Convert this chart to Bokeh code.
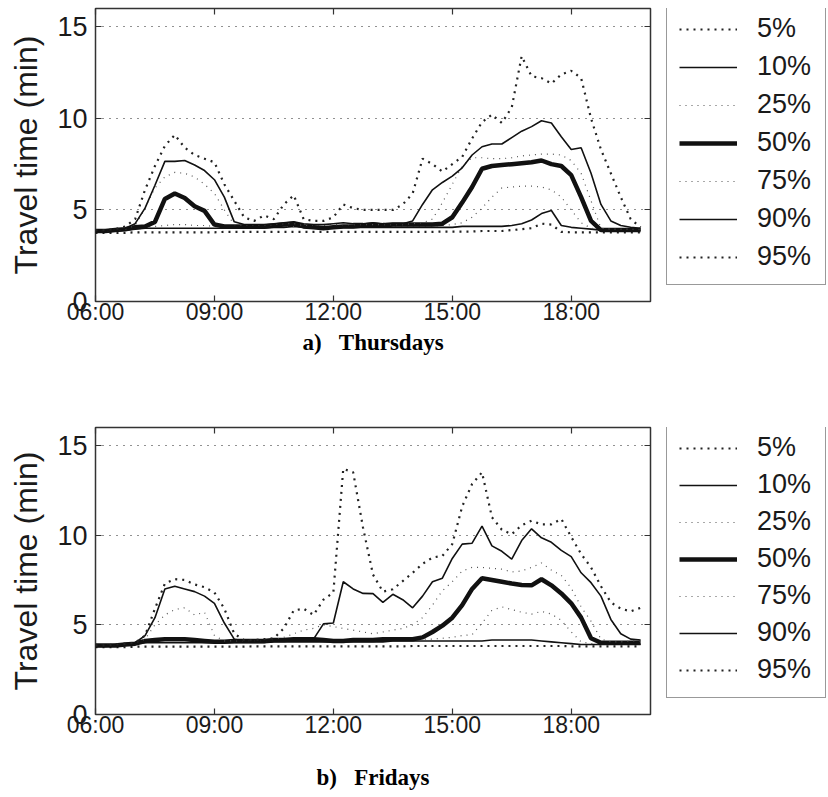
from bokeh.plotting import figure
from bokeh.models import Range1d, FixedTicker, LinearAxis, Legend, LegendItem, ColumnDataSource
from bokeh.layouts import column, row
from bokeh.embed import file_html
from bokeh.resources import INLINE

# ---------------- data ----------------
TIME_LABELS = [
    "06:00", "06:15", "06:30", "06:45", "07:00", "07:15", "07:30", "07:45",
    "08:00", "08:15", "08:30", "08:45", "09:00", "09:15", "09:30", "09:45",
    "10:00", "10:15", "10:30", "10:45", "11:00", "11:15", "11:30", "11:45",
    "12:00", "12:15", "12:30", "12:45", "13:00", "13:15", "13:30", "13:45",
    "14:00", "14:15", "14:30", "14:45", "15:00", "15:15", "15:30", "15:45",
    "16:00", "16:15", "16:30", "16:45", "17:00", "17:15", "17:30", "17:45",
    "18:00", "18:15", "18:30", "18:45", "19:00", "19:15", "19:30", "19:45",
]

PERCENTILES = ["5%", "10%", "25%", "50%", "75%", "90%", "95%"]

THU_P5 = [3.75, 3.75, 3.75, 3.75, 3.78, 3.78, 3.78, 3.78,
          3.78, 3.78, 3.78, 3.78, 3.78, 3.8, 3.8, 3.8,
          3.8, 3.8, 3.8, 3.8, 3.8, 3.8, 3.8, 3.8,
          3.8, 3.8, 3.8, 3.8, 3.8, 3.8, 3.8, 3.8,
          3.8, 3.8, 3.8, 3.82, 3.82, 3.82, 3.82, 3.85,
          3.85, 3.85, 3.9, 3.95, 4.0, 4.25, 4.2, 3.8,
          3.78, 3.78, 3.78, 3.78, 3.78, 3.78, 3.78, 3.78]
THU_P10 = [3.8, 3.8, 3.85, 3.9, 3.95, 4.0, 4.0, 4.0,
           4.0, 4.0, 4.0, 4.0, 4.0, 4.0, 4.0, 4.0,
           4.0, 4.0, 4.05, 4.05, 4.1, 4.05, 4.0, 4.0,
           4.0, 4.05, 4.05, 4.05, 4.05, 4.05, 4.05, 4.05,
           4.05, 4.05, 4.05, 4.05, 4.05, 4.1, 4.1, 4.1,
           4.1, 4.1, 4.15, 4.25, 4.45, 4.8, 4.97, 4.15,
           4.05, 4.0, 3.95, 3.9, 3.9, 3.9, 3.9, 3.9]
THU_P25 = [3.8, 3.8, 3.85, 3.9, 4.0, 4.05, 4.1, 4.15,
           4.2, 4.2, 4.15, 4.15, 4.1, 4.05, 4.05, 4.05,
           4.05, 4.05, 4.1, 4.1, 4.1, 4.05, 4.05, 4.05,
           4.05, 4.05, 4.05, 4.1, 4.1, 4.1, 4.1, 4.1,
           4.1, 4.1, 4.1, 4.15, 4.2, 4.3, 4.6, 5.1,
           5.7, 6.2, 6.25, 6.3, 6.3, 6.25, 6.1, 5.7,
           5.0, 4.3, 4.0, 3.9, 3.9, 3.9, 3.9, 3.9]
THU_P50 = [3.85, 3.85, 3.9, 3.95, 4.05, 4.1, 4.35, 5.6,
           5.9, 5.65, 5.2, 4.95, 4.2, 4.1, 4.1, 4.1,
           4.1, 4.1, 4.15, 4.2, 4.25, 4.1, 4.05, 4.0,
           4.05, 4.1, 4.1, 4.15, 4.2, 4.15, 4.2, 4.2,
           4.2, 4.2, 4.2, 4.25, 4.6, 5.4, 6.25, 7.25,
           7.4, 7.45, 7.5, 7.55, 7.6, 7.7, 7.5, 7.4,
           6.9, 5.7, 4.4, 3.9, 3.9, 3.9, 3.9, 3.9]
THU_P75 = [3.85, 3.85, 3.9, 3.95, 4.15, 5.1, 6.2, 6.8,
           7.05, 7.0, 6.8, 6.4, 5.9, 5.0, 4.2, 4.15,
           4.15, 4.15, 4.2, 4.25, 4.25, 4.15, 4.15, 4.15,
           4.2, 4.2, 4.2, 4.2, 4.2, 4.2, 4.2, 4.2,
           4.25, 4.3, 4.5, 5.4, 6.4, 7.4, 7.85, 7.85,
           7.8, 7.8, 7.85, 7.95, 8.0, 8.05, 8.05, 8.0,
           7.7, 7.0, 5.5, 4.0, 3.95, 3.95, 3.95, 3.95]
THU_P90 = [3.85, 3.85, 3.9, 4.0, 4.25, 5.1, 6.35, 7.65,
           7.65, 7.7, 7.45, 7.15, 6.65, 5.7, 4.35, 4.2,
           4.2, 4.2, 4.25, 4.3, 4.35, 4.25, 4.2, 4.2,
           4.25, 4.3, 4.25, 4.25, 4.3, 4.25, 4.25, 4.25,
           4.4, 5.3, 6.1, 6.5, 6.85, 7.3, 8.0, 8.45,
           8.6, 8.6, 8.95, 9.3, 9.55, 9.87, 9.75, 9.0,
           8.3, 8.4, 7.0, 5.3, 4.4, 4.15, 4.05, 4.0]
THU_P95 = [3.9, 3.9, 3.95, 4.1, 4.5, 6.1, 7.4, 8.5,
           9.1, 8.4, 8.0, 7.8, 7.6, 6.4, 5.5, 4.6,
           4.4, 4.7, 4.5, 5.3, 5.8, 4.5, 4.4, 4.4,
           4.6, 5.3, 5.1, 5.0, 5.0, 5.0, 5.0, 5.3,
           5.9, 7.8, 7.5, 7.1, 7.5, 7.9, 8.9, 9.8,
           10.2, 9.75, 10.6, 13.4, 12.3, 12.2, 11.9, 12.4,
           12.6, 12.2, 10.0, 8.3, 7.0, 5.7, 4.5, 4.05]

FRI_P5 = [3.75, 3.75, 3.75, 3.75, 3.78, 3.78, 3.78, 3.78,
          3.78, 3.78, 3.78, 3.78, 3.78, 3.78, 3.78, 3.78,
          3.8, 3.8, 3.8, 3.8, 3.8, 3.8, 3.8, 3.8,
          3.8, 3.8, 3.8, 3.8, 3.8, 3.8, 3.8, 3.8,
          3.82, 3.82, 3.82, 3.82, 3.82, 3.82, 3.82, 3.82,
          3.82, 3.82, 3.82, 3.82, 3.82, 3.82, 3.82, 3.82,
          3.8, 3.8, 3.8, 3.8, 3.8, 3.8, 3.8, 3.8]
FRI_P10 = [3.8, 3.8, 3.85, 3.9, 3.95, 4.0, 4.0, 4.0,
           4.0, 4.0, 4.0, 4.0, 4.0, 4.0, 4.0, 4.0,
           4.0, 4.0, 4.05, 4.05, 4.05, 4.05, 4.05, 4.05,
           4.05, 4.05, 4.05, 4.05, 4.05, 4.05, 4.1, 4.1,
           4.1, 4.1, 4.1, 4.1, 4.1, 4.1, 4.1, 4.1,
           4.15, 4.15, 4.15, 4.15, 4.15, 4.1, 4.05, 4.0,
           3.95, 3.9, 3.9, 3.9, 3.9, 3.9, 3.9, 3.9]
FRI_P25 = [3.8, 3.8, 3.85, 3.9, 3.95, 4.05, 4.1, 4.15,
           4.2, 4.2, 4.15, 4.1, 4.05, 4.05, 4.05, 4.05,
           4.05, 4.1, 4.1, 4.1, 4.15, 4.15, 4.15, 4.1,
           4.1, 4.1, 4.1, 4.1, 4.15, 4.15, 4.15, 4.15,
           4.15, 4.2, 4.2, 4.25, 4.3, 4.4, 4.45, 5.1,
           5.8, 6.0, 5.85, 5.7, 5.6, 5.75, 5.6, 5.25,
           4.6, 4.05, 3.95, 3.95, 3.95, 3.95, 3.95, 3.95]
FRI_P50 = [3.85, 3.85, 3.85, 3.9, 3.95, 4.1, 4.15, 4.2,
           4.2, 4.2, 4.15, 4.1, 4.05, 4.05, 4.1, 4.1,
           4.1, 4.1, 4.15, 4.15, 4.2, 4.2, 4.2, 4.15,
           4.1, 4.1, 4.15, 4.15, 4.15, 4.2, 4.2, 4.2,
           4.2, 4.3, 4.6, 4.95, 5.4, 6.1, 7.0, 7.6,
           7.5, 7.4, 7.3, 7.22, 7.2, 7.54, 7.2, 6.75,
           6.2, 5.4, 4.25, 4.0, 4.0, 4.0, 4.0, 4.0]
FRI_P75 = [3.85, 3.85, 3.9, 3.95, 4.0, 4.2, 5.0, 5.55,
           5.85, 5.95, 5.55, 5.7, 4.4, 4.1, 4.1, 4.1,
           4.1, 4.1, 4.15, 4.3, 4.5, 4.7, 4.8, 5.0,
           4.9, 4.8, 4.7, 4.6, 4.5, 4.6, 4.7, 4.8,
           5.0, 5.4, 6.1, 6.9, 7.4, 8.0, 8.2, 8.2,
           8.15, 8.1, 7.95, 8.0, 8.2, 8.45, 8.05, 7.75,
           7.05, 6.0, 5.2, 4.2, 4.05, 4.05, 4.1, 4.1]
FRI_P90 = [3.85, 3.85, 3.9, 3.95, 4.0, 4.4, 5.4, 7.0,
           7.15, 7.0, 6.85, 6.6, 6.2, 5.1, 4.2, 4.1,
           4.1, 4.1, 4.15, 4.2, 4.2, 4.2, 4.2, 5.05,
           5.1, 7.4, 7.0, 6.75, 6.74, 6.25, 6.7, 6.4,
           5.95, 6.6, 7.4, 7.6, 8.7, 9.5, 9.55, 10.5,
           9.4, 9.1, 8.66, 9.7, 10.35, 9.85, 9.6, 9.15,
           8.8, 7.9, 7.35, 6.6, 5.3, 4.5, 4.2, 4.15]
FRI_P95 = [3.85, 3.85, 3.9, 3.95, 4.0, 4.4, 5.9, 7.3,
           7.55, 7.5, 7.25, 7.1, 6.8, 5.9, 4.5, 4.15,
           4.15, 4.2, 4.25, 4.8, 5.8, 5.9, 5.55, 6.4,
           6.8, 13.7, 13.5, 10.4, 7.8, 6.85, 6.98, 7.44,
           7.9, 8.4, 8.75, 8.84, 9.5, 11.6, 12.85, 13.5,
           11.0, 10.3, 10.05, 10.55, 10.8, 10.6, 10.6, 10.9,
           9.9, 8.95, 8.2, 7.15, 6.25, 5.9, 5.75, 5.95]

X_TICKS = [6, 9, 12, 15, 18]
X_TICK_LABELS = ["06:00", "09:00", "12:00", "15:00", "18:00"]
Y_TICKS = [0, 5, 10, 15]
Y_GRID = [5, 10, 15]

THU_SERIES = [THU_P5, THU_P10, THU_P25, THU_P50, THU_P75, THU_P90, THU_P95]
FRI_SERIES = [FRI_P5, FRI_P10, FRI_P25, FRI_P50, FRI_P75, FRI_P90, FRI_P95]

# ---------------- styling ----------------
STYLES = {
    "5%":  dict(line_color="#222222", line_width=2.2, line_dash="2 5"),
    "10%": dict(line_color="#111111", line_width=1.6),
    "25%": dict(line_color="#555555", line_width=1.2, line_dash="1 5"),
    "50%": dict(line_color="#111111", line_width=4.5),
    "75%": dict(line_color="#555555", line_width=1.2, line_dash="1 5"),
    "90%": dict(line_color="#111111", line_width=1.6),
    "95%": dict(line_color="#222222", line_width=2.2, line_dash="2 5"),
}
SANS = "Liberation Sans"
SERIF = "Liberation Serif"
INK = "#1a1a1a"
NAN = float("nan")


def hours(label):
    h, m = label.split(":")
    return int(h) + int(m) / 60.0


TIMES = [hours(s) for s in TIME_LABELS]


def style_axis(ax, ticks, fontsize, show_labels=True):
    ax.ticker = FixedTicker(ticks=ticks)
    ax.major_tick_in = 6
    ax.major_tick_out = 0
    ax.major_tick_line_color = "#333333"
    ax.major_tick_line_width = 1.2
    ax.minor_tick_line_color = None
    ax.axis_line_color = None
    if show_labels:
        ax.major_label_text_font = SANS
        ax.major_label_text_font_size = fontsize
        ax.major_label_text_color = INK
    else:
        ax.major_label_text_font_size = "0px"
        ax.major_label_text_color = None
        ax.major_label_standoff = 0


def make_panel(caption, series, height, top, bottom, cap_standoff, frame_h, leg_h):
    p = figure(width=652, height=height,
               x_range=Range1d(6, 20), y_range=Range1d(0, 16),
               output_backend="svg", toolbar_location=None,
               min_border_left=95, min_border_right=2,
               min_border_top=top, min_border_bottom=bottom)
    p.outline_line_color = "#333333"
    p.outline_line_width = 1.5
    p.background_fill_color = "white"
    p.border_fill_color = "white"

    xa = p.xaxis[0]
    style_axis(xa, X_TICKS, "23px")
    xa.major_label_overrides = {t: l for t, l in zip(X_TICKS, X_TICK_LABELS)}
    xa.major_label_standoff = -3
    xa.axis_label = caption
    xa.axis_label_text_font = SERIF
    xa.axis_label_text_font_style = "bold"
    xa.axis_label_text_font_size = "23px"
    xa.axis_label_text_color = "black"
    xa.axis_label_standoff = cap_standoff

    ya = p.yaxis[0]
    style_axis(ya, Y_TICKS, "27px")
    ya.major_label_standoff = 8
    ya.axis_label = "Travel time (min)"
    ya.axis_label_text_font = SANS
    ya.axis_label_text_font_size = "32px"
    ya.axis_label_text_font_style = "normal"
    ya.axis_label_text_color = INK
    ya.axis_label_standoff = 10

    top_ax = LinearAxis()
    style_axis(top_ax, X_TICKS, "0px", show_labels=False)
    p.add_layout(top_ax, "above")
    right_ax = LinearAxis()
    style_axis(right_ax, Y_TICKS, "0px", show_labels=False)
    p.add_layout(right_ax, "right")

    p.xgrid.visible = False
    p.ygrid[0].ticker = FixedTicker(ticks=Y_GRID)
    p.ygrid[0].grid_line_color = "#222222"
    p.ygrid[0].grid_line_dash = "1 6"
    p.ygrid[0].grid_line_width = 1.2

    for name, vals in zip(PERCENTILES, series):
        src = ColumnDataSource(data=dict(t=TIMES, v=vals))
        p.line("t", "v", source=src, **STYLES[name])

    # legend lives in its own narrow figure to the right of the plot
    lf = figure(width=174, height=height, x_range=Range1d(0, 1), y_range=Range1d(0, 1),
                output_backend="svg", toolbar_location=None,
                x_axis_location=None, y_axis_location=None,
                min_border_left=0, min_border_right=0,
                min_border_top=0, min_border_bottom=0)
    lf.outline_line_color = None
    lf.xgrid.visible = False
    lf.ygrid.visible = False
    lf.background_fill_color = "white"
    lf.border_fill_color = "white"
    items = []
    for name in PERCENTILES:
        r = lf.line(x=[NAN], y=[NAN], **STYLES[name])
        items.append(LegendItem(label=name, renderers=[r]))
    spacing = 7 if leg_h >= 276 else 6
    leg = Legend(items=items, location=(14, frame_h - leg_h - 1), orientation="vertical",
                 padding=12, spacing=spacing, margin=0,
                 label_height=30, glyph_height=30, glyph_width=58,
                 label_standoff=20, label_width=56,
                 label_text_font=SANS, label_text_font_size="27px",
                 label_text_color=INK,
                 border_line_color="#333333", border_line_width=1.5,
                 background_fill_color="white", background_fill_alpha=1.0)
    lf.add_layout(leg, "center")
    return row(p, lf, spacing=0)


panel_a = make_panel("a)\u00a0\u00a0\u00a0Thursdays", THU_SERIES, 395, 8, 94, 2, 293, 276)
panel_b = make_panel("b)\u00a0\u00a0\u00a0Fridays", FRI_SERIES, 400, 32, 81, 24, 287, 270)

layout = column(panel_a, panel_b, spacing=0)
open("out.html", "w").write(file_html(layout, INLINE))
